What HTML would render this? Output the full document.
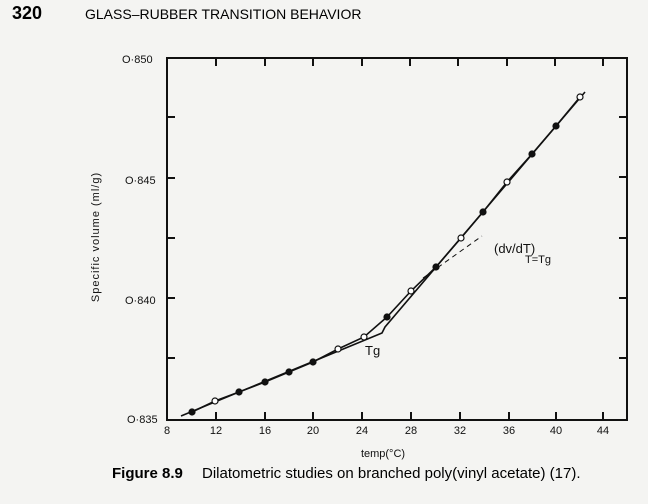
<!DOCTYPE html><html><head><style>
body{margin:0;background:#f4f4f2;}
svg{display:block}
</style></head><body>
<svg width="648" height="504" xmlns="http://www.w3.org/2000/svg" font-family="Liberation Sans, sans-serif">
<rect width="648" height="504" fill="#f4f4f2"/>
<text x="12" y="19" font-size="18" font-weight="bold">320</text>
<text x="85" y="19" font-size="14">GLASS–RUBBER TRANSITION BEHAVIOR</text>
<g stroke="#111" stroke-width="2" fill="none">
<rect x="167" y="58" width="460" height="362"/>
<path d="M167 117h8M167 178h8M167 238h8M167 298h8M167 358h8M627 117h-8M627 177h-8M627 238h-8M627 298h-8M627 358h-8"/>
<path d="M216 420v-8M265 420v-8M313 420v-8M362 420v-8M411 420v-8M460 420v-8M509 420v-8M556 420v-8M603 420v-8"/>
<path d="M216 58v8M265 58v8M313 58v8M362 58v8M410 58v8M458 58v8M507 58v8M555 58v8M603 58v8"/>
</g>
<g font-size="11" fill="#111">
<text x="122" y="63">O·850</text><text x="125" y="184">O·845</text><text x="125" y="304">O·840</text><text x="127" y="423">O·835</text>
<g text-anchor="middle"><text x="167" y="434">8</text><text x="216" y="434">12</text><text x="265" y="434">16</text><text x="313" y="434">20</text><text x="362" y="434">24</text><text x="411" y="434">28</text><text x="460" y="434">32</text><text x="509" y="434">36</text><text x="556" y="434">40</text><text x="603" y="434">44</text>
<text x="383" y="457">temp(°C)</text></g>
<text transform="translate(99,237) rotate(-90)" text-anchor="middle" letter-spacing="1">Specific volume (ml/g)</text>
<text x="365" y="355" font-size="13">Tg</text>
<text x="494" y="253" font-size="13">(dv/dT)</text><text x="525" y="263" font-size="11">T=Tg</text>
</g>
<g stroke="#111" stroke-width="1.6" fill="none">
<path d="M181 416L382 333L385 327L585 92"/>
<path d="M192 412L215 401L239 392L265 382L289 372L313 362L338 349L364 337L387 317L411 291L436 267L461 238L483 212L507 182L532 154L556 126L580 97"/>
<path d="M423 278L482 236" stroke-dasharray="5 4" stroke-width="1"/>
</g>
<g stroke="#111" stroke-width="1.2">
<circle cx="192" cy="412" r="3" fill="#111"/><circle cx="215" cy="401" r="3" fill="#fff"/><circle cx="239" cy="392" r="3" fill="#111"/><circle cx="265" cy="382" r="3" fill="#111"/><circle cx="289" cy="372" r="3" fill="#111"/><circle cx="313" cy="362" r="3" fill="#111"/><circle cx="338" cy="349" r="3" fill="#fff"/><circle cx="364" cy="337" r="3" fill="#fff"/><circle cx="387" cy="317" r="3" fill="#111"/><circle cx="411" cy="291" r="3" fill="#fff"/><circle cx="436" cy="267" r="3" fill="#111"/><circle cx="461" cy="238" r="3" fill="#fff"/><circle cx="483" cy="212" r="3" fill="#111"/><circle cx="507" cy="182" r="3" fill="#fff"/><circle cx="532" cy="154" r="3" fill="#111"/><circle cx="556" cy="126" r="3" fill="#111"/><circle cx="580" cy="97" r="3" fill="#fff"/>
</g>
<text x="112" y="478" font-size="15" font-weight="bold">Figure 8.9</text>
<text x="202" y="478" font-size="15">Dilatometric studies on branched poly(vinyl acetate) (17).</text>
</svg></body></html>
